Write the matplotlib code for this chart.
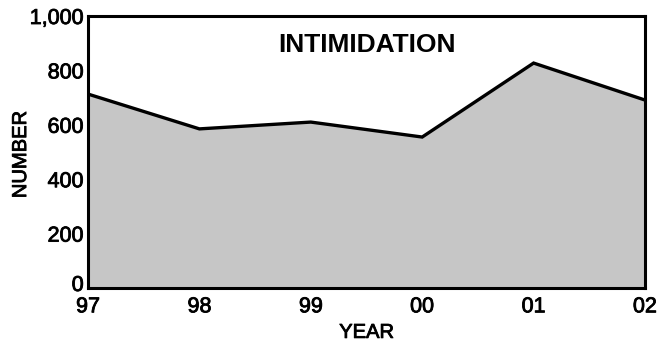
import matplotlib.pyplot as plt
import matplotlib.patheffects as pe
from matplotlib.transforms import ScaledTranslation

plt.rcParams['font.family'] = ['Liberation Sans', 'DejaVu Sans']

# yearly counts
years = ['97', '98', '99', '00', '01', '02']
counts = [713, 585, 610, 555, 827, 691]
yticks = [0, 200, 400, 600, 800, 1000]
ylabels = ['0', '200', '400', '600', '800', '1,000']

# slightly heavier ink on the lettering
ink = [pe.withStroke(linewidth=0.6, foreground='black')]

fig = plt.figure(figsize=(6.58, 3.43), dpi=100)
ax = fig.add_axes([88 / 658, 1 - 288 / 343, 557 / 658, 272 / 343])

x = list(range(len(years)))
ax.fill_between(x, counts, 0, color='#c6c6c6', lw=0)
ax.plot(x, counts, color='black', lw=2.4, solid_joinstyle='miter')

ax.set_xlim(0, len(years) - 1)
ax.set_ylim(0, 1000)
ax.set_xticks(x)
ax.set_xticklabels(years)
ax.set_yticks(yticks)
ax.set_yticklabels(ylabels)
ax.tick_params(length=0, labelsize=15.5)
ax.tick_params(axis='x', pad=6)
ax.tick_params(axis='y', pad=3)
for lab in ax.get_xticklabels() + ax.get_yticklabels():
    lab.set_path_effects(ink)
# lift the zero a little so it clears the x labels
zero = ax.get_yticklabels()[0]
zero.set_transform(zero.get_transform() + ScaledTranslation(0, 0.05, fig.dpi_scale_trans))
for s in ax.spines.values():
    s.set_linewidth(2.2)

ax.set_xlabel('YEAR', fontsize=14.5, labelpad=4, path_effects=ink)
ax.set_ylabel('NUMBER', fontsize=14.5, path_effects=ink)
ax.yaxis.set_label_coords(-0.104, 0.49)
ax.text(0.5, 0.895, 'INTIMIDATION', transform=ax.transAxes, ha='center', va='center',
        fontsize=19, fontweight='bold')

fig.savefig('out.png', dpi=100)
